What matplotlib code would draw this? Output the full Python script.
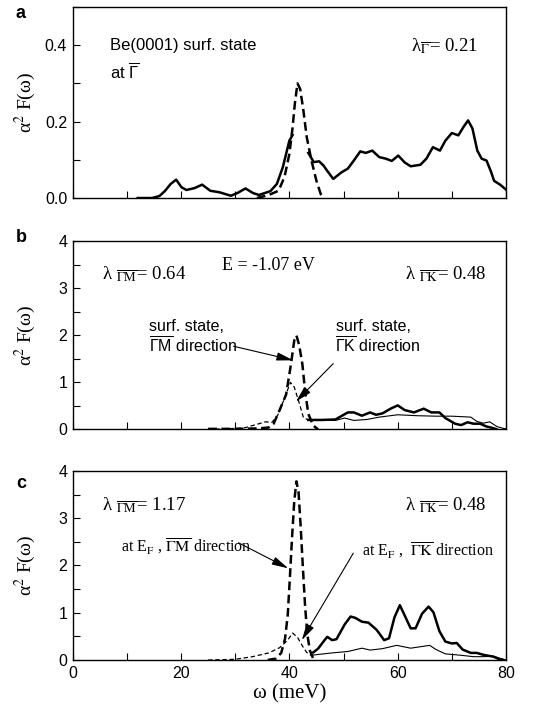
import numpy as np
import matplotlib
matplotlib.use("Agg")
import matplotlib.pyplot as plt
from matplotlib.ticker import MultipleLocator, FormatStrFormatter

plt.rcParams['font.family'] = ['Liberation Sans', 'DejaVu Sans']

# panel a: Be(0001) surface state at Gamma
a_tot_w = [12.0, 14.6, 16.0, 17.0, 18.1, 19.1, 20.1, 21.0, 22.5, 23.9, 25.4, 27.1, 29.2, 30.4,
           31.9, 33.3, 34.4, 36.5, 37.7, 38.8, 40.0, 40.6, np.nan, 43.5, 44.5, 45.5, 46.3,
           47.0, 48.1, 49.6, 50.8, 51.9, 53.1, 54.1, 55.3, 56.6, 57.8, 58.9, 60.1, 61.3,
           62.4, 64.2, 65.3, 66.5, 67.8, 68.8, 70.0, 71.2, 72.2, 73.0, 73.8, 74.7, 75.5,
           76.4, 77.2, 77.8, 78.9, 80.0]
a_tot = [0.0, 0.0, 0.005, 0.018, 0.037, 0.048, 0.028, 0.021, 0.026, 0.035, 0.019, 0.015, 0.006,
         0.013, 0.025, 0.013, 0.008, 0.018, 0.037, 0.081, 0.150, 0.165, np.nan, 0.118, 0.094,
         0.096, 0.085, 0.071, 0.050, 0.067, 0.077, 0.098, 0.122, 0.118, 0.124, 0.107, 0.103,
         0.097, 0.111, 0.093, 0.083, 0.087, 0.103, 0.133, 0.124, 0.150, 0.170, 0.164, 0.187,
         0.203, 0.182, 0.124, 0.103, 0.098, 0.070, 0.045, 0.035, 0.022]
a_ss_w = [34.0, 36.2, 38.0, 39.1, 40.0, 40.6, 41.0, 41.5, 42.0, 42.6, 43.2, 44.1, 45.0, 45.8, 46.4]
a_ss = [0.0, 0.008, 0.019, 0.055, 0.115, 0.185, 0.245, 0.300, 0.285, 0.228, 0.160, 0.097,
        0.045, 0.010, 0.0]

# panel b: E = -1.07 eV
b_gm_w = [43.5, 46.0, 48.5, 50.8, 51.9, 53.4, 54.9, 56.0, 57.2, 58.7, 60.0, 61.3, 63.0, 64.8,
          66.2, 67.7, 68.8, 70.6, 71.7, 72.9, 74.0, 75.2, 76.4, 77.5, 78.3]
b_gm = [0.20, 0.20, 0.21, 0.36, 0.36, 0.29, 0.36, 0.31, 0.34, 0.44, 0.51, 0.41, 0.36, 0.44,
        0.36, 0.36, 0.24, 0.12, 0.09, 0.15, 0.12, 0.12, 0.06, 0.03, 0.0]
b_gk_w = [43.5, 48.5, 50.2, 51.9, 54.3, 56.6, 60.0, 63.6, 67.1, 70.0, 73.5, 74.6, 75.8, 77.0,
          78.3, 79.5, 80.0]
b_gk = [0.20, 0.19, 0.24, 0.19, 0.21, 0.26, 0.31, 0.29, 0.28, 0.28, 0.26, 0.17, 0.13, 0.16,
        0.06, 0.02, 0.01]
b_gm_ss_w = [25.0, 30.0, 34.5, 36.2, 37.1, 38.2, 39.4, 40.3, 40.9, 41.3, 41.8, 42.4, 42.9,
             43.5, 44.4, 45.3]
b_gm_ss = [0.01, 0.01, 0.02, 0.04, 0.12, 0.41, 0.74, 1.39, 1.89, 2.00, 1.80, 1.39, 0.82,
           0.33, 0.08, 0.0]
b_gk_ss_w = [25.0, 31.5, 33.8, 35.6, 36.8, 37.9, 39.1, 40.2, 40.9, 41.8, 42.6, 43.5]
b_gk_ss = [0.0, 0.025, 0.10, 0.16, 0.15, 0.31, 0.66, 1.00, 0.90, 0.57, 0.25, 0.20]

# panel c: at E_F
c_gm_w = [44.4, 45.3, 46.5, 47.0, 47.9, 48.7, 50.2, 51.3, 52.2, 53.4, 54.6, 56.1, 57.5, 58.4,
          59.4, 60.4, 61.3, 62.4, 63.3, 64.5, 65.7, 66.6, 67.7, 68.8, 70.0, 70.9, 72.0, 73.5,
          74.6, 75.8, 77.7, 78.9, 79.5]
c_gm = [0.16, 0.24, 0.42, 0.49, 0.42, 0.44, 0.75, 0.92, 0.89, 0.81, 0.79, 0.64, 0.42, 0.46,
        0.90, 1.16, 0.94, 0.67, 0.67, 0.98, 1.13, 1.01, 0.61, 0.39, 0.35, 0.36, 0.22, 0.15,
        0.15, 0.11, 0.07, 0.01, 0.0]
c_gk_w = [44.0, 47.9, 50.8, 53.4, 54.9, 57.2, 59.8, 62.4, 65.9, 67.1, 68.8, 71.7, 74.0, 75.8,
          77.7, 78.9, 80.0]
c_gk = [0.10, 0.15, 0.18, 0.25, 0.21, 0.24, 0.31, 0.25, 0.31, 0.22, 0.13, 0.10, 0.07, 0.07,
        0.08, 0.035, 0.0]
c_gm_ss_w = [36.0, 37.5, 38.5, 39.2, 39.7, 40.1, 40.5, 40.9, 41.3, 41.7, 42.1, 42.5, 42.9,
             43.3, 43.8, 44.4, 45.0]
c_gm_ss = [0.0, 0.03, 0.15, 0.45, 0.95, 1.75, 2.60, 3.35, 3.78, 3.55, 2.80, 1.95, 1.15,
           0.55, 0.20, 0.03, 0.0]
c_gk_ss_w = [25.0, 30.0, 33.2, 36.2, 38.2, 39.7, 40.6, 41.5, 42.4, 43.2, 44.0]
c_gk_ss = [0.0, 0.015, 0.07, 0.15, 0.26, 0.42, 0.57, 0.48, 0.30, 0.16, 0.10]

SERIF = dict(family='Liberation Serif', math_fontfamily='stix')
SANS = dict(family='Liberation Sans', math_fontfamily='custom')
plt.rcParams['mathtext.rm'] = 'Liberation Sans'
plt.rcParams['mathtext.it'] = 'Liberation Sans:italic'

THICK = dict(color='black', lw=1.8)
THIN = dict(color='black', lw=0.8)
THICK_DASH = dict(color='black', lw=1.8, dashes=(3.5, 1.8))
THIN_DASH = dict(color='black', lw=0.9, dashes=(3.5, 2.2))
ARROW = dict(arrowstyle='-|>,head_length=1.0,head_width=0.25', color='black', lw=0.8,
             shrinkA=0, shrinkB=0)

GM = r'$_{\overline{\Gamma\mathrm{M}}}$'
GK = r'$_{\overline{\Gamma\mathrm{K}}}$'


def style_axes(ax, ymax, ymajor, yminor, fmt, xlabels):
    ax.set_xlim(0, 80)
    ax.set_ylim(0, ymax)
    ax.xaxis.set_major_locator(MultipleLocator(20))
    ax.xaxis.set_minor_locator(MultipleLocator(10))
    ax.yaxis.set_major_locator(MultipleLocator(ymajor))
    ax.yaxis.set_minor_locator(MultipleLocator(yminor))
    ax.yaxis.set_major_formatter(FormatStrFormatter(fmt))
    ax.tick_params(which='both', direction='in', length=5, width=0.8, top=False, right=False,
                   labelsize=11.5, pad=4)
    if not xlabels:
        ax.tick_params(axis='x', labelbottom=False)
    for s in ax.spines.values():
        s.set_linewidth(1.0)
    ax.set_ylabel('α' + r'$^2$' + ' F(ω)', fontsize=14, **SERIF)
    ax.yaxis.set_label_coords(-0.08, 0.5)


fig = plt.figure(figsize=(5.52, 7.08), dpi=100)
ax_a = fig.add_axes([0.1317, 0.7203, 0.785, 0.270])
ax_b = fig.add_axes([0.1317, 0.3936, 0.785, 0.2653])
ax_c = fig.add_axes([0.1317, 0.0678, 0.785, 0.267])

# a
ax_a.plot(a_tot_w, a_tot, **THICK)
ax_a.plot(a_ss_w, a_ss, **THICK_DASH)
style_axes(ax_a, 0.5, 0.2, 0.1, '%.1f', False)
ax_a.text(6.9, 0.40, 'Be(0001) surf. state', fontsize=12, va='center', **SANS)
ax_a.text(6.9, 0.33, r'at $\overline{\Gamma}$', fontsize=12, va='center', **SANS)
ax_a.text(62.4, 0.40, 'λ' + r'$_{\overline{\Gamma}}$' + '= 0.21', fontsize=13.5, va='center',
          **SERIF)

# b
ax_b.plot(b_gm_w, b_gm, **THICK)
ax_b.plot(b_gk_w, b_gk, **THIN)
ax_b.plot(b_gk_ss_w, b_gk_ss, **THIN_DASH)
ax_b.plot(b_gm_ss_w, b_gm_ss, **THICK_DASH)
style_axes(ax_b, 4, 1, 0.5, '%d', False)
ax_b.text(5.35, 3.31, 'λ ' + GM + '= 0.64', fontsize=13.5, va='center', **SERIF)
ax_b.text(27.5, 3.48, 'E = -1.07 eV', fontsize=13, va='center', **SERIF)
ax_b.text(61.4, 3.31, 'λ ' + GK + '= 0.48', fontsize=13.5, va='center', **SERIF)
ax_b.text(14.0, 2.19, 'surf. state,', fontsize=11.5, va='center', **SANS)
ax_b.text(14.0, 1.77, r'$\overline{\Gamma\mathrm{M}}$ direction', fontsize=11.5, va='center', **SANS)
ax_b.text(48.7, 2.19, 'surf. state,', fontsize=11.5, va='center', **SANS)
ax_b.text(48.4, 1.77, r'$\overline{\Gamma\mathrm{K}}$ direction', fontsize=11.5, va='center', **SANS)
ax_b.annotate('', xy=(40.7, 1.47), xytext=(29.7, 1.77), arrowprops=ARROW)
ax_b.annotate('', xy=(41.2, 0.59), xytext=(48.1, 1.40), arrowprops=ARROW)

# c
ax_c.plot(c_gm_w, c_gm, **THICK)
ax_c.plot(c_gk_w, c_gk, **THIN)
ax_c.plot(c_gk_ss_w, c_gk_ss, **THIN_DASH)
ax_c.plot(c_gm_ss_w, c_gm_ss, **THICK_DASH)
style_axes(ax_c, 4, 1, 0.5, '%d', True)
ax_c.text(5.35, 3.28, 'λ ' + GM + '= 1.17', fontsize=13.5, va='center', **SERIF)
ax_c.text(61.4, 3.28, 'λ ' + GK + '= 0.48', fontsize=13.5, va='center', **SERIF)
ax_c.text(9.0, 2.41, r'at E$_\mathrm{F}$ , $\overline{\Gamma\mathrm{M}}$ direction', fontsize=11.5,
          va='center', **SERIF)
ax_c.text(53.4, 2.33, r'at E$_\mathrm{F}$ ,  $\overline{\Gamma\mathrm{K}}$ direction', fontsize=11.5,
          va='center', **SERIF)
ax_c.annotate('', xy=(39.8, 1.94), xytext=(30.6, 2.48), arrowprops=ARROW)
ax_c.annotate('', xy=(42.3, 0.42), xytext=(51.8, 2.26), arrowprops=ARROW)
ax_c.set_xlabel('ω (meV)', fontsize=15, labelpad=3, **SERIF)

for lab, y in [('a', 13), ('b', 237), ('c', 484)]:
    fig.text(16 / 552, 1 - y / 708, lab, fontsize=13, fontweight='bold', va='center',
             ha='left', family='Liberation Sans')

fig.savefig('out.png', dpi=100)
